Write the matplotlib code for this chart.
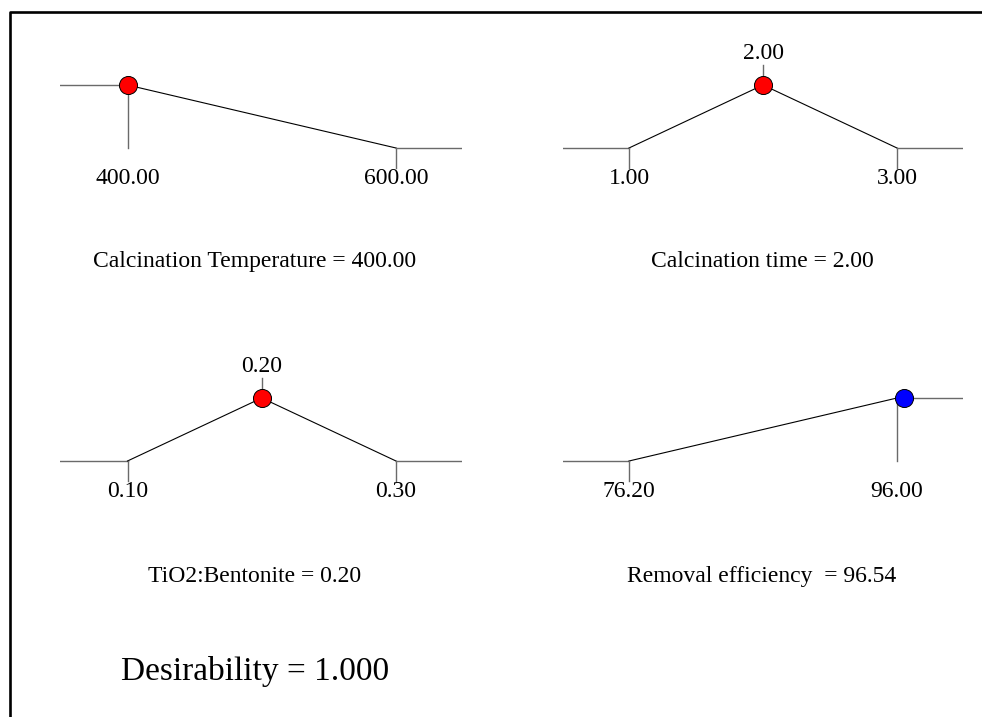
import matplotlib
matplotlib.use("Agg")
import matplotlib.pyplot as plt
from matplotlib.transforms import offset_copy
from matplotlib.lines import Line2D

plt.rcParams['font.family'] = ['Liberation Serif', 'DejaVu Serif']

W, H = 982, 717

# factor / response settings for each desirability ramp
names = ['Calcination Temperature', 'Calcination time', 'TiO2:Bentonite', 'Removal efficiency ']
lows = [400.0, 1.0, 0.10, 76.20]
highs = [600.0, 3.0, 0.30, 96.00]
targets = [None, 2.0, 0.20, None]        # middle target for "target" goals
d_low = [1, 0, 0, 0]                      # desirability at the low limit
d_high = [0, 0, 0, 1]                     # desirability at the high limit
current = [400.00, 2.00, 0.20, 96.54]
dot_colors = ['red', 'red', 'red', 'blue']
desirability = 1.000

# panel placement in pixels: (x of low, x of high, y of d=1, y of d=0, left, right)
panels = [
    (127.5, 396, 85, 148, 60, 462),
    (629, 897, 85, 148, 563, 963),
    (127.5, 396, 398, 461, 60, 462),
    (629, 897, 398, 461, 563, 963),
]
caption_pos = [(255, 267), (762, 267), (255, 582), (762, 582)]

fig = plt.figure(figsize=(W / 100, H / 100), dpi=100)
fig.patch.set_facecolor('white')

# outer frame (left and top edges)
fig.add_artist(Line2D([9.5 / W, 9.5 / W, 1.0], [0.0, 1 - 12 / H, 1 - 12 / H],
                      transform=fig.transFigure, color='black', lw=1.9))

GRAY = '#6a6a6a'
FS = 17
pad = 45

for i in range(4):
    xl, xh, y1, y0, left, right = panels[i]
    lo, hi = lows[i], highs[i]
    sx = (hi - lo) / (xh - xl)
    sy = 1.0 / (y0 - y1)
    top, bottom = y1 - pad, y0 + pad
    ax = fig.add_axes([left / W, 1 - bottom / H, (right - left) / W, (bottom - top) / H])
    ax.set_xlim(lo - (xl - left) * sx, hi + (right - xh) * sx)
    ax.set_ylim(-pad * sy, 1 + pad * sy)
    ax.axis('off')
    x0, x1 = ax.get_xlim()

    # flat parts outside the limits
    ax.plot([x0, lo], [d_low[i], d_low[i]], color=GRAY, lw=1.0)
    ax.plot([hi, x1], [d_high[i], d_high[i]], color=GRAY, lw=1.0)

    # ramp
    if targets[i] is None:
        ax.plot([lo, hi], [d_low[i], d_high[i]], color='black', lw=0.8)
    else:
        ax.plot([lo, targets[i], hi], [d_low[i], 1, d_high[i]], color='black', lw=0.8)

    # limit ticks + labels
    tick = 20 * sy
    below = offset_copy(ax.transData, fig=fig, x=0, y=-36, units='dots')
    for xv, dv in [(lo, d_low[i]), (hi, d_high[i])]:
        if dv == 1:
            ax.plot([xv, xv], [1, 0], color=GRAY, lw=1.0)
        else:
            ax.plot([xv, xv], [0, -tick], color=GRAY, lw=1.0)
        ax.text(xv, 0, '%.2f' % xv, transform=below,
                ha='center', va='baseline', fontsize=FS)
    if targets[i] is not None:
        ax.plot([targets[i], targets[i]], [1, 1 + tick], color=GRAY, lw=1.0)
        ax.text(targets[i], 1, '%.2f' % targets[i],
                transform=offset_copy(ax.transData, fig=fig, x=0, y=26, units='dots'),
                ha='center', va='baseline', fontsize=FS)

    # current setting
    ax.plot([current[i]], [1], 'o', ms=13, mfc=dot_colors[i], mec='black', mew=0.7, clip_on=False)

    cx, cy = caption_pos[i]
    fig.text(cx / W, 1 - cy / H, '%s = %.2f' % (names[i], current[i]),
             ha='center', va='baseline', fontsize=FS)

fig.text(255 / W, 1 - 680 / H, 'Desirability = %.3f' % desirability,
         ha='center', va='baseline', fontsize=24)

fig.savefig('out.png', dpi=100, facecolor='white')
